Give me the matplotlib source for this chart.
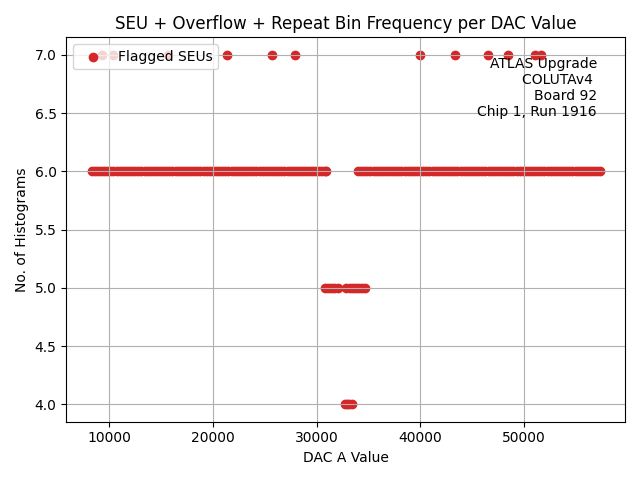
import matplotlib
matplotlib.use("Agg")
import matplotlib.pyplot as plt

# DAC values flagged, grouped by number of histograms
dac_hist7 = [9300, 10400, 15700, 21400, 25740, 27930, 39980, 43320,
             46560, 48490, 51130, 51710]
dac_hist6 = [8300, 8600, 8900, 9200, 9500, 9800, 10100, 10400, 10700,
             11000, 11300, 11600, 11900, 12200, 12500, 12800, 13100, 13400,
             13700, 14000, 14300, 14600, 14900, 15200, 15500, 15800, 16100,
             16400, 16700, 17000, 17300, 17600, 17900, 18200, 18500, 18800,
             19100, 19400, 19700, 20000, 20300, 20600, 20900, 21200, 21500,
             21800, 22100, 22400, 22700, 23000, 23300, 23600, 23900, 24200,
             24500, 24800, 25100, 25400, 25700, 26000, 26300, 26600, 26900,
             27200, 27500, 27800, 28100, 28400, 28700, 29000, 29300, 29600,
             29900, 30200, 30500, 30800, 30950,
             34000, 34300, 34600, 34900, 35200, 35500, 35800, 36100, 36400,
             36700, 37000, 37300, 37600, 37900, 38200, 38500, 38800, 39100,
             39400, 39700, 40000, 40300, 40600, 40900, 41200, 41500, 41800,
             42100, 42400, 42700, 43000, 43300, 43600, 43900, 44200, 44500,
             44800, 45100, 45400, 45700, 46000, 46300, 46600, 46900, 47200,
             47500, 47800, 48100, 48400, 48700, 49000, 49300, 49600, 49900,
             50200, 50500, 50800, 51100, 51400, 51700, 52000, 52300, 52600,
             52900, 53200, 53500, 53800, 54100, 54400, 54700, 55000, 55300,
             55600, 55900, 56200, 56500, 56800, 57100, 57320]
dac_hist5 = [30820, 31100, 31400, 31700, 32070, 32890, 33200, 33500, 33800,
             34100, 34400, 34720]
dac_hist4 = [32720, 32950, 33150, 33380]

dac_values = dac_hist7 + dac_hist6 + dac_hist5 + dac_hist4
n_hists = ([7] * len(dac_hist7) + [6] * len(dac_hist6)
           + [5] * len(dac_hist5) + [4] * len(dac_hist4))

fig, ax = plt.subplots(figsize=(6.4, 4.8), dpi=100)
ax.scatter(dac_values, n_hists, color="tab:red", label="Flagged SEUs")
ax.set_title("SEU + Overflow + Repeat Bin Frequency per DAC Value")
ax.set_xlabel("DAC A Value")
ax.set_ylabel("No. of Histograms")
ax.grid(True)
ax.legend(loc="upper left")
ax.text(0.95, 0.95, "ATLAS Upgrade\nCOLUTAv4 \nBoard 92\nChip 1, Run 1916",
        transform=ax.transAxes, ha="right", va="top", multialignment="right")
fig.tight_layout()
fig.savefig("out.png")
